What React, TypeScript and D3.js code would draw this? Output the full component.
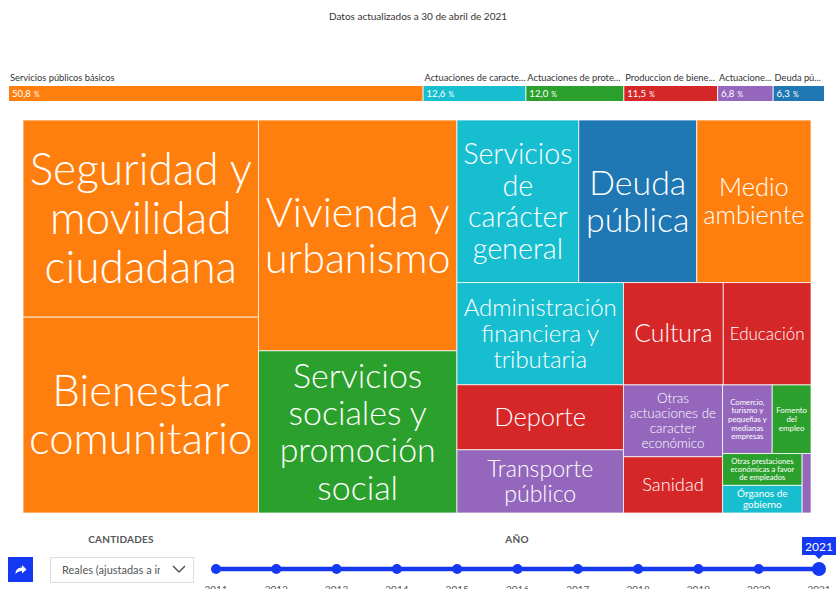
import React, { useMemo } from "react";
import * as d3 from "d3";

const W = 836;
const H = 589;

// ---- Data ----
const updateNote = "Datos actualizados a 30 de abril de 2021";

const groupNames = [
  "Servicios públicos básicos",
  "Actuaciones de caracter general",
  "Actuaciones de protección y promoción social",
  "Produccion de bienes públicos de carácter preferente",
  "Actuaciones de carácter económico",
  "Deuda pública",
];
const groupShares = [50.8, 12.6, 12.0, 11.5, 6.8, 6.3];
const groupColors = ["#ff7f0e", "#17becf", "#2ca02c", "#d62728", "#9467bd", "#1f77b4"];

const policyNames = [
  "Seguridad y movilidad ciudadana",
  "Bienestar comunitario",
  "Vivienda y urbanismo",
  "Servicios sociales y promoción social",
  "Servicios de carácter general",
  "Deuda pública",
  "Medio ambiente",
  "Administración financiera y tributaria",
  "Deporte",
  "Transporte público",
  "Cultura",
  "Educación",
  "Otras actuaciones de caracter económico",
  "Sanidad",
  "Comercio, turismo y pequeñas y medianas empresas",
  "Fomento del empleo",
  "Otras prestaciones económicas a favor de empleados",
  "Órganos de gobierno",
  "Industria y energía",
];
const policyGroups = [0, 0, 0, 2, 1, 5, 0, 1, 3, 4, 3, 3, 4, 3, 4, 2, 2, 1, 4];
const policyValues = [15.0, 14.9, 14.8, 10.4, 6.4, 6.2, 6.0, 5.5, 3.5, 3.4, 3.3, 2.9, 2.3, 1.8, 1.1, 0.86, 0.82, 0.71, 0.17];

const years = [2011, 2012, 2013, 2014, 2015, 2016, 2017, 2018, 2019, 2020, 2021];
const selectedYear = 2021;
const quantityOption = "Reales (ajustadas a inflación)";

// ---- Helpers ----
const BLUE = "#1538f2";
const LABEL_FONT = "Lato, 'Open Sans', sans-serif";

let ctx: CanvasRenderingContext2D | null = null;
function measure(text: string, size: number, weight: number | string = 400, family = LABEL_FONT) {
  if (!ctx) ctx = document.createElement("canvas").getContext("2d");
  if (!ctx) return text.length * size * 0.5;
  ctx.font = `${weight} ${size}px ${family}`;
  return ctx.measureText(text).width;
}

// split into wrap units; a "y" stays with the preceding word
function units(name: string): string[] {
  const words = name.split(" ");
  const out: string[] = [];
  words.forEach((w, i) => {
    if (w === "y" && out.length && i < words.length - 1 && !out[out.length - 1].endsWith(" y")) {
      out[out.length - 1] += " y";
    } else out.push(w);
  });
  return out;
}

function wrap(words: string[], fs: number, weight: number, maxW: number): string[] | null {
  const lines: string[] = [];
  let cur = "";
  for (const w of words) {
    if (measure(w, fs, weight) > maxW) return null;
    const test = cur ? cur + " " + w : w;
    if (measure(test, fs, weight) <= maxW) cur = test;
    else {
      lines.push(cur);
      cur = w;
    }
  }
  if (cur) lines.push(cur);
  return lines;
}

function fitWith(words: string[], w: number, h: number) {
  const pad = Math.min(6, Math.min(w, h) * 0.1);
  const aw = w - 2 * pad;
  const ah = h - 2 * pad;
  let fs = Math.min(48, 0.245 * Math.sqrt(w * h));
  while (fs >= 5) {
    const weight = fs >= 12 ? 300 : 400;
    const lines = wrap(words, fs, weight, aw);
    if (lines && lines.length * 1.1 * fs <= ah) return { fs, lines, weight };
    fs -= 0.25;
  }
  return null;
}

function fitLabel(name: string, w: number, h: number) {
  return fitWith(units(name), w, h) || fitWith(name.split(" "), w, h);
}

function truncate(text: string, size: number, maxW: number, family: string) {
  if (measure(text, size, 400, family) <= maxW) return text;
  let t = text;
  while (t.length > 1 && measure(t + "...", size, 400, family) > maxW) t = t.slice(0, -1);
  return t.trimEnd() + "...";
}

const fmtShare = (v: number) => d3.format(".1f")(v).replace(".", ",");

export default function App() {
  const tm = useMemo(() => {
    const left = 23, top = 120, width = 788, height = 393;
    const data = {
      name: "root",
      children: policyNames.map((name, i) => ({ name, value: policyValues[i], group: policyGroups[i] })),
    };
    const root = d3
      .hierarchy<any>(data)
      .sum((d: any) => d.value || 0)
      .sort((a, b) => (b.value || 0) - (a.value || 0));
    d3.treemap<any>().tile(d3.treemapSquarify).size([width, height])(root);
    return root.leaves().map((l: any) => {
      const x0 = left + l.x0, y0 = top + l.y0, x1 = left + l.x1, y1 = top + l.y1;
      return {
        name: l.data.name,
        group: l.data.group,
        x0, y0, x1, y1,
        label: fitLabel(l.data.name, x1 - x0, y1 - y0),
      };
    });
  }, []);

  const barX = d3.scaleLinear().domain([0, d3.sum(groupShares)]).range([9, 825]);
  const cum = Array.from(d3.cumsum(groupShares));
  const starts = cum.map((c, i) => c - groupShares[i]);

  const yearX = d3.scalePoint<number>().domain(years).range([216, 819]);
  const selX = yearX(selectedYear) as number;
  const topFs = 9.3;

  return (
    <svg
      width={W}
      height={H}
      style={{ position: "absolute", left: 0, top: 0, background: "#fff", fontFamily: LABEL_FONT }}
    >
      <defs>
        <clipPath id="ddclip">
          <rect x={51} y={557} width={109} height={25} />
        </clipPath>
      </defs>

      <text x={418} y={20} textAnchor="middle" fontSize={10} fill="#333">
        {updateNote}
      </text>

      {/* top share bar */}
      {groupNames.map((g, i) => {
        const x = barX(starts[i]);
        const w = barX(cum[i]) - x;
        return (
          <g key={g}>
            <text x={x + 1} y={81} fontSize={topFs} fill="#333">
              {truncate(g, topFs, w - 1, LABEL_FONT)}
            </text>
            <rect x={x} y={86} width={w - 1} height={15} fill={groupColors[i]} />
            <text x={x + 3} y={97} fontSize={9.6} fill="#fff">
              {fmtShare(groupShares[i])}
              <tspan fontSize={7} dx={3}>%</tspan>
            </text>
          </g>
        );
      })}

      {/* treemap */}
      {tm.map((c) => (
        <rect
          key={"r" + c.name}
          x={c.x0}
          y={c.y0}
          width={c.x1 - c.x0}
          height={c.y1 - c.y0}
          fill={groupColors[c.group]}
          stroke="#fff"
          strokeOpacity={0.75}
          strokeWidth={1}
        />
      ))}
      {tm.map((c) => {
        if (!c.label) return null;
        const { fs, lines, weight } = c.label;
        const cx = (c.x0 + c.x1) / 2;
        const cy = (c.y0 + c.y1) / 2;
        const lh = fs * 1.1;
        return (
          <text key={"t" + c.name} textAnchor="middle" fontSize={fs} fontWeight={weight} fill="#fff">
            {lines.map((ln, i) => (
              <tspan key={i} x={cx} y={cy + (i - (lines.length - 1) / 2) * lh} dy="0.35em">
                {ln}
              </tspan>
            ))}
          </text>
        );
      })}

      {/* controls */}
      <text x={121} y={543} textAnchor="middle" fontSize={10} fontWeight={700} fill="#555" letterSpacing={0.2}>
        CANTIDADES
      </text>
      <text x={517} y={543} textAnchor="middle" fontSize={10} fontWeight={700} fill="#555" letterSpacing={0.2}>
        AÑO
      </text>

      <rect x={8} y={557} width={25} height={25} fill={BLUE} />
      <path
        d="M15.5 574 C15.5 569.5 18.5 567.5 22 567.5 L22 565 L26.5 569.5 L22 573.5 L22 571 C19 571 17 572 15.5 574 Z"
        fill="#fff"
      />

      <rect x={50.5} y={557.5} width={143} height={25} fill="#fff" stroke="#ddd" />
      <text x={62} y={574} fontSize={11} fill="#555" clipPath="url(#ddclip)">
        {quantityOption}
      </text>
      <polyline points="173,566 179,572 185,566" fill="none" stroke="#555" strokeWidth={1.5} />

      <line x1={yearX(years[0])} x2={selX} y1={569} y2={569} stroke={BLUE} strokeWidth={4.5} />
      {years.map((yr) => (
        <g key={yr}>
          <circle cx={yearX(yr)} cy={569} r={yr === selectedYear ? 7 : 5} fill={BLUE} />
          <text x={yearX(yr)} y={593} textAnchor="middle" fontSize={10} fill="#555">
            {yr}
          </text>
        </g>
      ))}
      <rect x={selX - 17} y={537} width={34} height={18} fill={BLUE} />
      <path d={`M${selX - 4} 555 L${selX} 559 L${selX + 4} 555 Z`} fill={BLUE} />
      <text x={selX} y={551} textAnchor="middle" fontSize={12} fill="#fff">
        {selectedYear}
      </text>
    </svg>
  );
}
